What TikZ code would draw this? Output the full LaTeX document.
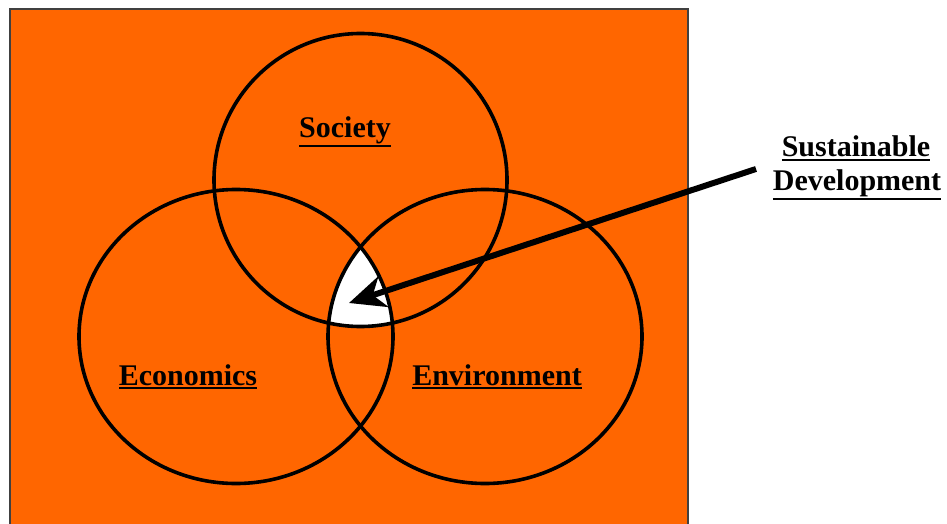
\documentclass[tikz,border=0pt]{standalone}
\usepackage{fontspec}
\setmainfont{Liberation Serif}
\usetikzlibrary{arrows.meta}
\definecolor{vennorange}{RGB}{255,102,0}
% underline with a heavier rule
\newcommand\ulword[1]{\setbox0\hbox{#1}\rlap{\rule[\dimexpr-\dp0-4pt\relax]{\wd0}{2pt}}\box0}

\begin{document}
\begin{tikzpicture}[x=1pt,y=1pt,yscale=-1,
  ring/.style={line width=3.6},
  lbl/.style={anchor=base,inner sep=0pt,font=\fontsize{30}{36}\selectfont\bfseries}]
\useasboundingbox (0,0) rectangle (947,524);

% panel
\fill[vennorange] (10,9) rectangle (688,524);
\draw[black!75,line width=1.2] (10,524) -- (10,9) -- (688,9) -- (688,524);

% set centres
\coordinate (soc) at (360.5,180);
\coordinate (eco) at (236,336.5);
\coordinate (env) at (485,336.5);

% common part of the three sets
\begin{scope}
\clip (soc) circle (146.5);
\clip (eco) ellipse (157 and 147);
\fill[white] (env) ellipse (157 and 147);
\end{scope}

\draw[ring] (soc) circle (146.5);
\draw[ring] (eco) ellipse (157 and 147);
\draw[ring] (env) ellipse (157 and 147);

% Text Node
\node[lbl] (society) at (345,137) {\ulword{Society}};
% Text Node
\node[lbl] (economics) at (188,385) {\ulword{Economics}};
% Text Node
\node[lbl] (environment) at (497,385) {\ulword{Environment}};
% Text Node
\node[lbl] (sustainable) at (856,157) {\ulword{Sustainable}};
% Text Node
\node[lbl] (development) at (857,190) {\ulword{Development}};

% pointer
\coordinate (sdtail) at (756,169);
\coordinate (sdhead) at (349,303);
\draw[line width=6,-{Stealth[length=36pt,width=32pt,inset=11pt]}] (sdtail) -- (sdhead);

\end{tikzpicture}
\end{document}
